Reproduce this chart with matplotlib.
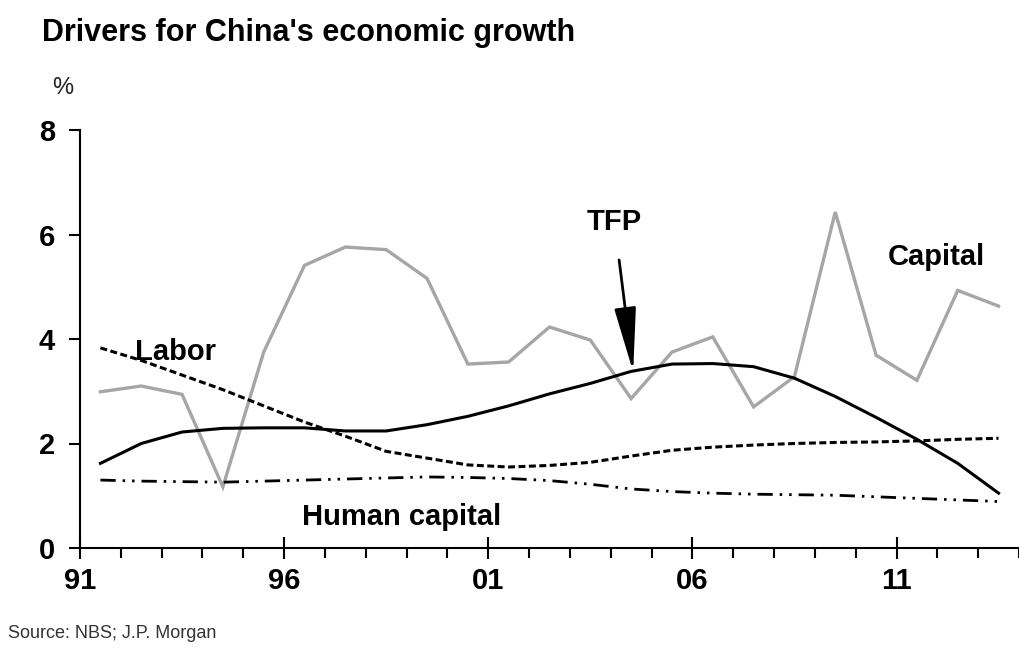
import matplotlib
matplotlib.use("Agg")
import matplotlib.pyplot as plt
from matplotlib.ticker import FixedLocator, MultipleLocator
import numpy as np

years = list(range(1991, 2014))
capital = [2.99, 3.10, 2.94, 1.17, 3.75, 5.41, 5.76, 5.71, 5.16, 3.52, 3.56, 4.23,
           3.98, 2.86, 3.75, 4.04, 2.70, 3.28, 6.43, 3.69, 3.21, 4.93, 4.63]
tfp = [1.62, 2.00, 2.22, 2.29, 2.30, 2.30, 2.24, 2.24, 2.36, 2.52, 2.72, 2.95,
       3.15, 3.38, 3.52, 3.53, 3.47, 3.25, 2.90, 2.50, 2.08, 1.62, 1.05]
labor = [3.83, 3.59, 3.31, 3.03, 2.72, 2.41, 2.14, 1.85, 1.72, 1.59, 1.55, 1.58,
         1.64, 1.76, 1.87, 1.93, 1.97, 2.00, 2.02, 2.03, 2.05, 2.08, 2.10]
human_capital = [1.30, 1.28, 1.27, 1.26, 1.28, 1.30, 1.32, 1.34, 1.36, 1.35, 1.33, 1.29,
                 1.22, 1.13, 1.08, 1.05, 1.03, 1.02, 1.01, 0.98, 0.95, 0.92, 0.89]
xtick_years = [1991, 1996, 2001, 2006, 2011]
xtick_labels = ["91", "96", "01", "06", "11"]
yticks = [0, 2, 4, 6, 8]

plt.rcParams['font.family'] = ['Liberation Sans', 'DejaVu Sans']
plt.rcParams['lines.scale_dashes'] = False

fig = plt.figure(figsize=(10.2, 6.52), dpi=100)
ax = fig.add_axes([80/1020, 1-548/652, 1-80/1020 - 0.001, (548-130)/652])

x = np.array(years) + 0.5
ax.plot(x, capital, color='#a6a6a6', lw=2.4, solid_joinstyle='miter')
ax.plot(x, tfp, color='black', lw=2.2)
ax.plot(x, labor, color='black', lw=2.2, linestyle=(0, (5, 2.5)))
ax.plot(x, human_capital, color='black', lw=2.0,
        linestyle=(0, (11, 5, 1.8, 5, 1.8, 5)))

ax.set_xlim(1991, 2014)
ax.set_ylim(0, 8)
for s in ['top', 'right']:
    ax.spines[s].set_visible(False)
for s in ['left', 'bottom']:
    ax.spines[s].set_linewidth(1.5)
    ax.spines[s].set_color('black')

ax.xaxis.set_major_locator(FixedLocator(xtick_years))
ax.set_xticklabels(xtick_labels)
ax.xaxis.set_minor_locator(MultipleLocator(1))
ax.set_yticks(yticks)
ax.set_yticklabels([str(v) for v in yticks])
ax.tick_params(axis='x', which='major', direction='inout', length=16, width=1.5,
               labelsize=21, pad=6)
ax.tick_params(axis='x', which='minor', direction='out', length=7, width=1.5)
ax.tick_params(axis='y', which='major', direction='out', length=8, width=1.5,
               labelsize=21, pad=10)
for lab in ax.get_xticklabels() + ax.get_yticklabels():
    lab.set_fontweight('bold')

ax.text(2011.97, 5.56, "Capital", fontsize=21, fontweight='bold', ha='center', va='center')
ax.text(1993.35, 3.75, "Labor", fontsize=21, fontweight='bold', ha='center', va='center')
ax.text(1998.88, 0.59, "Human capital", fontsize=21, fontweight='bold', ha='center', va='center')
ax.annotate("TFP", xy=(2004.55, 3.37), xytext=(2004.09, 6.23),
            fontsize=21, fontweight='bold', ha='center', va='center',
            arrowprops=dict(arrowstyle='-|>,head_length=1.9,head_width=0.32',
                            color='black', lw=2, shrinkA=15, shrinkB=0))

fig.text(42/1020, 1-33/652, "Drivers for China's economic growth", fontsize=22,
         fontweight='bold', ha='left', va='center')
fig.text(52/1020, 1-88/652, "%", fontsize=17, ha='left', va='center', color='#222222')
fig.text(8/1020, 1-633/652, "Source: NBS; J.P. Morgan", fontsize=13,
         color='#333333', ha='left', va='center')

fig.savefig("out.png", dpi=100)
